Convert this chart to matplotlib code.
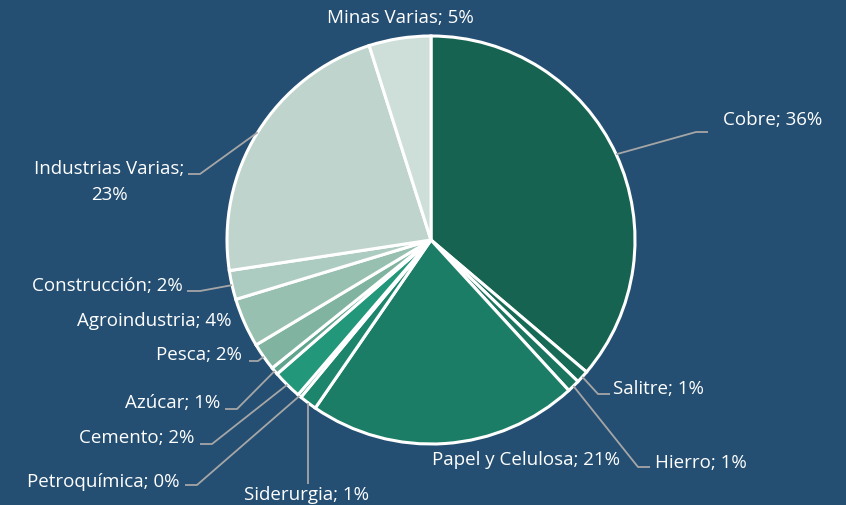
import numpy as np
import matplotlib
matplotlib.use("Agg")
import matplotlib.pyplot as plt

W, H = 846, 506

categories = ["Cobre", "Salitre", "Hierro", "Papel y Celulosa", "Siderurgia",
              "Petroquímica", "Cemento", "Azúcar", "Pesca", "Agroindustria",
              "Construcción", "Industrias Varias", "Minas Varias"]
shares = [36.2, 1.0, 1.0, 21.4, 1.4, 0.3, 2.3, 0.6, 2.2, 3.9, 2.3, 22.5, 4.9]
pct_labels = ["36%", "1%", "1%", "21%", "1%", "0%", "2%", "1%", "2%", "4%",
              "2%", "23%", "5%"]

colors = ["#166351", "#176a55", "#1a745e", "#1c7d66", "#1d856b", "#1f8d70",
          "#22977a", "#5fa58d", "#80b4a0", "#98c0b0", "#adccc1", "#bfd4cc",
          "#cddfd8"]

# label layout in pixels (x, y, ha) and leader elbow/end points
text_pos = [(723, 120, "left"), (613, 389, "left"), (655, 463, "left"),
            (526, 460, "center"), (306, 495, "center"), (179, 482, "right"),
            (194, 438, "right"), (220, 403, "right"), (242, 355, "right"),
            (231, 321, "right"), (183, 286, "right"), (109, 182, "center"),
            (400, 18, "center")]
leaders = [[(696, 133), (708, 133)], [(598, 395), (610, 395)],
           [(638, 468), (650, 468)], None, [(None, 485)],
           [(197, 486), (185, 486)], [(212, 445), (200, 445)],
           [(237, 410), (225, 410)], [(258, 362), (249, 362)], None,
           [(200, 292), (187, 292)], [(200, 175), (188, 175)], None]

bg = "#244f73"
cx, cy, r = 431, 241, 204

fig = plt.figure(figsize=(W / 100, H / 100), dpi=100, facecolor=bg)
ax = fig.add_axes([0, 0, 1, 1])
ax.set_facecolor(bg)

ax.pie(shares, colors=colors, startangle=90, counterclock=False,
       center=(cx, H - cy), radius=r,
       wedgeprops=dict(edgecolor="white", linewidth=2.2))

total = sum(shares)
cum = np.cumsum([0] + shares[:-1])
for i, cat in enumerate(categories):
    mid = (cum[i] + shares[i] / 2) / total * 2 * np.pi
    ex = cx + r * np.sin(mid)
    ey = cy - r * np.cos(mid)
    if leaders[i] is not None:
        pts = [(ex, ey)]
        for px, py in leaders[i]:
            pts.append((ex if px is None else px, py))
        xs = [p[0] for p in pts]
        ys = [H - p[1] for p in pts]
        ax.plot(xs, ys, color="#a6a6a6", lw=1.3, solid_capstyle="butt")
    tx, ty, ha = text_pos[i]
    if cat == "Industrias Varias":
        txt = cat + ";\n" + pct_labels[i]
    else:
        txt = cat + "; " + pct_labels[i]
    ax.text(tx, H - ty, txt, ha=ha, va="center", color="white",
            fontsize=13.5, family="Open Sans", linespacing=1.5,
            multialignment="center")

ax.set_xlim(0, W)
ax.set_ylim(0, H)
ax.set_aspect("equal")
ax.axis("off")

fig.savefig("out.png", dpi=100, facecolor=bg)
